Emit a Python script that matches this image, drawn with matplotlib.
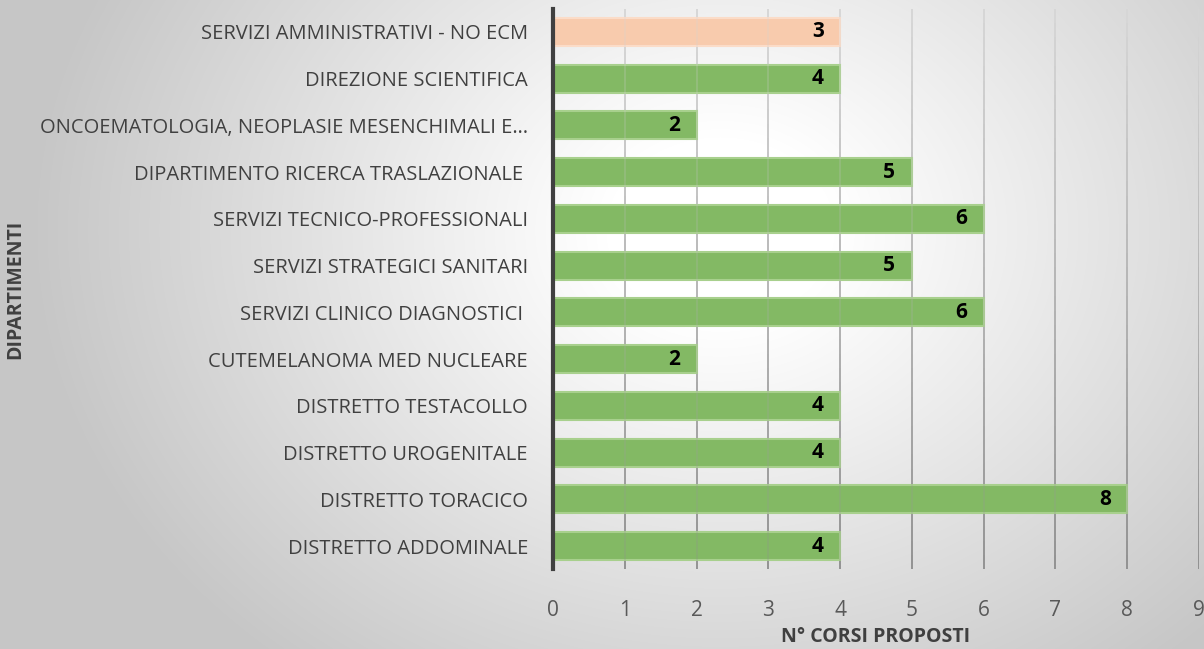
import numpy as np
import matplotlib
matplotlib.use("Agg")
import matplotlib.pyplot as plt
from matplotlib import font_manager

# data, top to bottom as in the chart
departments = [
    "SERVIZI AMMINISTRATIVI - NO ECM",
    "DIREZIONE SCIENTIFICA",
    "ONCOEMATOLOGIA, NEOPLASIE MESENCHIMALI E…",
    "DIPARTIMENTO RICERCA TRASLAZIONALE ",
    "SERVIZI TECNICO-PROFESSIONALI",
    "SERVIZI STRATEGICI SANITARI",
    "SERVIZI CLINICO DIAGNOSTICI ",
    "CUTEMELANOMA MED NUCLEARE",
    "DISTRETTO TESTACOLLO",
    "DISTRETTO UROGENITALE",
    "DISTRETTO TORACICO",
    "DISTRETTO ADDOMINALE",
]
bar_values = [4, 4, 2, 5, 6, 5, 6, 2, 4, 4, 8, 4]
value_labels = ["3", "4", "2", "5", "6", "5", "6", "2", "4", "4", "8", "4"]
bar_colors = ["#F8CBAD"] + ["#83B964"] * 11
edge_colors = ["#FBDCC8"] + ["#A8D08D"] * 11

names = {f.name for f in font_manager.fontManager.ttflist}
fam = "Liberation Sans Narrow" if "Liberation Sans Narrow" in names else "Open Sans"
plt.rcParams["font.family"] = [fam, "DejaVu Sans"]

fig = plt.figure(figsize=(12.04, 6.49), dpi=100)

# radial grey background
bg = fig.add_axes([0, 0, 1, 1], zorder=-10)
h, w = 649, 1204
yy, xx = np.mgrid[0:h, 0:w]
d = np.sqrt(((xx - 720) / 760.0) ** 2 + ((yy - 230) / 620.0) ** 2)
t = np.clip((d - 0.15) / 0.75, 0, 1)
shade = 1.0 - 0.22 * t
bg.imshow(np.dstack([shade] * 3), aspect="auto", extent=[0, 1, 0, 1])
bg.axis("off")

ax = fig.add_axes([0.4593, 0.1226, 0.9958 - 0.4593, 0.9867 - 0.1226])
ax.patch.set_alpha(0)
y = np.arange(len(departments))
n = len(departments)
ax.barh(y, bar_values, height=0.6, color=bar_colors, edgecolor=edge_colors,
        linewidth=1.5, zorder=3)
for yi, v, lab in zip(y, bar_values, value_labels):
    ax.text(v - 0.23, yi, lab, ha="right", va="center", fontsize=15,
            fontweight="bold", color="black", zorder=5)

# gridlines fading from light (top) to darker (bottom)
segs = np.linspace(-0.5, n - 0.5, 40)
for k in range(len(segs) - 1):
    f = k / (len(segs) - 2)
    g = 0.84 - 0.28 * f
    ax.vlines(range(1, 10), segs[k], segs[k + 1], color=(g, g, g), linewidth=1.3, zorder=1)
    ax.vlines(range(1, 10), segs[k], segs[k + 1], color=(g, g, g), linewidth=1.3,
              alpha=0.25, zorder=4)

ax.set_xlim(0, 9)
ax.set_ylim(n - 0.5, -0.5)
ax.set_yticks(y)
ax.set_yticklabels(departments, fontsize=14.5, color="#404040")
ax.set_xticks(range(10))
ax.tick_params(axis="x", labelsize=15, labelcolor="#595959", length=0, pad=22)
ax.tick_params(axis="y", length=0, pad=18)
for s in ["top", "right", "bottom"]:
    ax.spines[s].set_visible(False)
ax.spines["left"].set_color("#404040")
ax.spines["left"].set_linewidth(3)
ax.spines["left"].set_zorder(6)

fig.text(876 / 1204, 1 - 637 / 649, "N° CORSI PROPOSTI", ha="center", va="center",
         fontsize=14, fontweight="bold", color="#404040")
fig.text(0.013, 1 - 289 / 649, "DIPARTIMENTI", rotation=90, ha="center", va="center",
         fontsize=14, fontweight="bold", color="#404040")

fig.savefig("out.png", dpi=100)
